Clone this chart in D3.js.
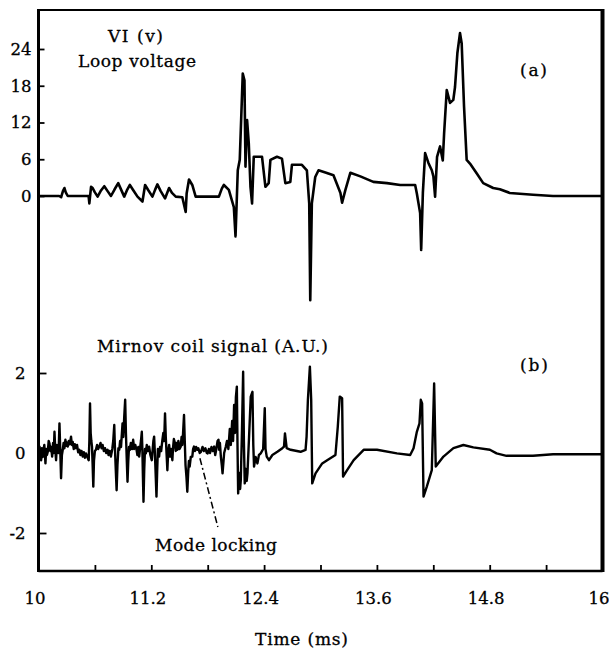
<!DOCTYPE html>
<html><head><meta charset="utf-8">
<script src="https://cdn.jsdelivr.net/npm/d3@7"></script>
<style>
body{margin:0;background:#fff}
svg{display:block}
text{font-family:"DejaVu Serif",serif;fill:#000;stroke:#000;stroke-width:0.3px}
</style>
</head><body>
<svg id="chart" width="609" height="651"></svg>
<script>
// ---- data (time in ms) ----
const timeTicks = [10,10.6,11.2,11.8,12.4,13,13.6,14.2,14.8,15.4,16];
const timeTickLabels = ["10","11.2","12.4","13.6","14.8","16"];
const voltTicks = [0,6,12,18,24];
const mirnovTicks = [-2,0,2];

// (a) loop voltage [time, volts]
const loopVoltage = [
[10.0,0],[10.22,0],[10.241,-0.2],[10.26,0.8],[10.276,1.3],[10.29,0.6],[10.311,0],[10.533,0],[10.541,-1.2],[10.559,1.5],[10.576,1.3],
[10.6,0.6],[10.629,-0.1],[10.665,0.9],[10.700,1.6],[10.735,0.8],[10.771,0],[10.81,1.1],[10.848,2.1],[10.88,1.0],[10.912,-0.1],[10.94,0.9],[10.972,1.8],[11.01,0.9],[11.053,-0.1],[11.106,-0.9],
[11.134,1.8],[11.17,0.9],[11.212,-0.1],[11.24,1.0],[11.265,1.9],[11.3,0.8],[11.346,-0.4],[11.389,1.3],[11.42,0.5],[11.460,-0.1],[11.530,-0.2],[11.566,-2.6],
[11.576,0.4],[11.601,2.7],[11.636,1.8],[11.672,-0.1],[11.919,-0.1],[11.95,1.2],[11.972,1.8],[12.025,1.0],[12.078,-1.8],
[12.096,-6.6],[12.120,4.2],[12.141,5.9],[12.173,20.0],[12.191,18.9],[12.202,4.8],[12.219,12.4],[12.237,8.6],
[12.255,1.5],[12.272,-1.2],[12.290,6.4],[12.378,6.4],[12.414,1.5],[12.449,2.1],[12.467,5.9],[12.537,6.4],
[12.590,6.1],[12.626,2.1],[12.679,2.3],[12.696,5.1],[12.802,5.1],[12.855,4.2],[12.880,-1.2],[12.891,-17.0],
[12.908,-1.2],[12.944,3.1],[12.979,4.2],[13.06,3.8],[13.138,3.4],[13.212,0.5],[13.230,-1.1],[13.265,1.0],[13.318,3.8],
[13.424,3.2],[13.562,2.3],[13.707,2.1],[13.848,1.8],[14.007,1.8],[14.025,0.4],[14.060,-2.8],[14.071,-8.8],
[14.089,0.5],[14.113,7.0],[14.148,5.4],[14.184,4.2],[14.201,3.2],[14.219,-0.1],[14.240,6.4],[14.272,8.1],
[14.301,5.8],[14.315,10.2],[14.343,17.3],[14.378,15.2],[14.413,15.7],[14.431,17.8],[14.456,23.3],[14.484,26.6],
[14.502,24.9],[14.527,14.6],[14.555,5.9],[14.590,5.3],[14.661,3.7],[14.731,2.1],[14.837,1.3],[14.908,1.1],
[15.014,0.5],[15.261,0.2],[15.473,0],[16.0,0]
];

// (b) Mirnov coil signal [time, A.U.]
const mirnovSignal = [
[10.005,0.05],[10.011,0.16],[10.018,-0.05],[10.028,-0.18],[10.036,0.12],[10.045,-0.1],[10.053,0.08],[10.062,0.2],[10.074,-0.26],
[10.082,0.1],[10.090,-0.05],[10.099,0.03],[10.108,0.3],[10.117,0.24],[10.126,0.05],[10.135,0.15],[10.145,-0.09],[10.155,0.25],
[10.162,0.0],[10.170,0.53],[10.178,0.1],[10.187,-0.18],[10.196,0.2],[10.205,0.16],[10.214,0.0],[10.223,0.74],[10.231,0.1],
[10.240,-0.63],[10.249,-0.05],[10.258,0.08],[10.267,0.25],[10.276,0.12],[10.286,0.33],[10.296,0.18],[10.304,0.26],[10.311,0.16],
[10.322,0.3],[10.334,0.22],[10.346,0.41],[10.355,0.2],[10.364,0.28],[10.375,0.1],[10.386,0.22],[10.399,0.12],[10.41,0.2],
[10.422,0.02],[10.435,0.08],[10.446,-0.05],[10.458,0.05],[10.470,-0.09],[10.482,0.02],[10.494,-0.12],[10.505,-0.01],[10.52,-0.1],
[10.534,-0.18],[10.541,0.3],[10.548,1.24],[10.555,0.5],[10.562,0.3],[10.569,0.16],[10.576,-0.3],[10.583,-0.84],[10.59,-0.2],
[10.6,0.05],[10.611,0.08],[10.623,0.2],[10.635,0.1],[10.647,0.16],[10.66,0.25],[10.671,0.12],[10.682,0.20],[10.695,0.05],
[10.708,0.12],[10.72,0.0],[10.735,0.08],[10.745,-0.05],[10.757,0.05],[10.770,-0.09],[10.785,0.1],[10.795,0.3],[10.806,0.70],
[10.812,0.2],[10.82,-0.3],[10.831,-0.93],[10.84,-0.3],[10.85,0.12],[10.859,0.08],[10.868,0.3],[10.878,0.15],[10.894,0.74],
[10.902,0.4],[10.912,0.9],[10.922,1.33],[10.93,0.5],[10.938,-0.1],[10.947,-0.72],[10.955,-0.2],[10.963,0.15],[10.972,0.08],
[10.982,0.25],[10.995,0.1],[11.007,0.33],[11.018,0.1],[11.03,0.2],[11.043,0.08],[11.052,-0.05],[11.062,0.15],[11.071,-0.09],
[11.08,0.1],[11.09,0.3],[11.099,0.53],[11.105,0.1],[11.11,-0.5],[11.117,-1.22],[11.125,-0.4],[11.133,0.1],[11.142,-0.01],
[11.152,0.2],[11.165,0.05],[11.177,0.16],[11.19,-0.05],[11.205,-0.18],[11.215,0.1],[11.222,0.3],[11.230,0.41],[11.238,0.0],
[11.246,-0.5],[11.255,-1.09],[11.262,-0.5],[11.27,0.1],[11.283,-0.09],[11.293,0.15],[11.305,0.05],[11.318,0.33],[11.328,0.5],
[11.337,0.3],[11.346,0.99],[11.354,0.4],[11.362,0.0],[11.371,-0.43],[11.38,0.05],[11.39,0.2],[11.399,-0.09],[11.41,0.1],
[11.424,-0.18],[11.432,0.15],[11.44,0.35],[11.452,0.24],[11.46,0.05],[11.468,0.25],[11.477,0.08],[11.488,0.3],[11.5,0.1],
[11.513,0.16],[11.522,0.4],[11.53,0.2],[11.538,0.5],[11.548,0.95],[11.556,0.3],[11.564,-0.3],[11.574,-0.6],[11.583,-0.97],
[11.592,-0.5],[11.6,-0.2],[11.608,-0.34],[11.62,-0.1],[11.636,-0.09],[11.645,0.1],[11.654,0.16],[11.665,0.05],[11.677,0.15],
[11.689,0.08],[11.7,0.12],[11.715,0.0],[11.728,0.03],[11.745,0.15],[11.76,0.05],[11.775,0.12],[11.79,0.0],[11.799,-0.01],
[11.812,0.1],[11.825,0.0],[11.84,0.15],[11.855,0.05],[11.869,0.16],[11.88,-0.05],[11.892,0.1],[11.905,0.3],[11.915,0.33],
[11.922,0.08],[11.93,0.25],[11.940,-0.09],[11.95,-0.3],[11.958,-0.51],[11.975,0.0],[11.993,0.16],[12.005,0.3],[12.020,0.10],
[12.035,0.60],[12.046,0.20],[12.060,0.80],[12.070,0.30],[12.081,1.20],[12.090,0.50],[12.100,1.40],[12.110,1.66],[12.117,0.2],
[12.124,-1.01],[12.135,-0.5],[12.145,-0.9],[12.152,-0.68],[12.165,0.6],[12.177,2.03],[12.185,0.3],[12.194,-0.76],[12.205,-0.4],
[12.215,-0.7],[12.223,-0.51],[12.24,0.4],[12.258,1.41],[12.276,1.53],[12.285,0.2],[12.293,-0.34],[12.31,-0.1],[12.329,-0.26],
[12.345,-0.05],[12.364,-0.01],[12.39,0.1],[12.407,1.12],[12.415,0.1],[12.428,-0.09],[12.452,-0.18],[12.488,-0.05],[12.541,0.03],
[12.594,0.12],[12.612,0.16],[12.622,0.49],[12.640,0.12],[12.682,0.08],[12.788,0.03],[12.841,0.08],[12.852,0.41],[12.866,1.33],
[12.887,2.16],[12.901,1.33],[12.912,-0.76],[12.947,-0.51],[13.018,-0.26],[13.071,-0.18],[13.159,-0.05],[13.184,0.66],
[13.205,1.41],[13.230,1.37],[13.240,-0.59],[13.283,-0.43],[13.353,-0.18],[13.459,0.08],[13.601,0.08],[13.813,-0.01],
[13.954,-0.05],[13.990,0.12],[14.025,0.53],[14.053,0.74],[14.067,1.33],[14.081,1.24],[14.096,-1.09],[14.131,-0.84],
[14.184,-0.43],[14.209,1.74],[14.226,-0.34],[14.308,-0.09],[14.414,0.12],[14.520,0.20],[14.626,0.14],[14.802,0.08],
[14.873,-0.01],[14.979,-0.07],[15.261,-0.07],[15.474,-0.03],[16.0,-0.03]
];

// "Mode locking" leader line, in data coords of panel (b)
const modeLockArrow = [[11.717,-0.13],[11.908,-1.85]];

// ---- drawing ----
const svg = d3.select("#chart");
const fLeft = 38.5, fRight = 602.5, fTop = 10, fBottom = 571;
const x = d3.scaleLinear().domain([10,16]).range([fLeft,fRight]);
const yA = d3.scaleLinear().domain([0,24]).range([196,49]);
const yB = d3.scaleLinear().domain([-2,2]).range([533,373]);

// traces
const lineA = d3.line().x(d=>x(d[0])).y(d=>yA(d[1]));
const lineB = d3.line().x(d=>x(d[0])).y(d=>yB(d[1]));
svg.append("path").datum(loopVoltage).attr("d",lineA)
  .attr("fill","none").attr("stroke","#000").attr("stroke-width",2.6).attr("stroke-linejoin","round");
svg.append("path").datum(mirnovSignal).attr("d",lineB)
  .attr("fill","none").attr("stroke","#000").attr("stroke-width",2.4).attr("stroke-linejoin","round");

// leader line
svg.append("path").datum(modeLockArrow).attr("d",lineB)
  .attr("fill","none").attr("stroke","#000").attr("stroke-width",1.5).attr("stroke-dasharray","7,3,2,3");

// axes
const fs = "16.5px";
const axA = svg.append("g").attr("transform",`translate(${fLeft},0)`)
  .call(d3.axisLeft(yA).tickValues(voltTicks).tickSize(-6).tickPadding(7).tickFormat(d => String(d)));
const axB = svg.append("g").attr("transform",`translate(${fLeft},0)`)
  .call(d3.axisLeft(yB).tickValues(mirnovTicks).tickSize(-8).tickPadding(13).tickFormat(d => String(d)));
const axX = svg.append("g").attr("transform",`translate(0,${fBottom})`)
  .call(d3.axisBottom(x).tickValues(timeTicks).tickSize(-6).tickPadding(21)
    .tickFormat(d => { const s = (+d.toFixed(1)).toString(); return timeTickLabels.includes(s) ? s : ""; }));
[axA,axB,axX].forEach(g=>{
  g.select(".domain").remove();
  g.selectAll(".tick line").attr("stroke","#000").attr("stroke-width",1.8);
  g.selectAll(".tick text").attr("font-family","DejaVu Serif").attr("font-size",fs).attr("fill","#000");
});
axX.selectAll(".tick text").attr("dx",-4);

// frame
svg.append("line").attr("x1",fLeft).attr("x2",fLeft).attr("y1",fTop-1).attr("y2",fBottom+1).attr("stroke","#000").attr("stroke-width",3);
svg.append("line").attr("x1",fLeft).attr("x2",fRight).attr("y1",fTop).attr("y2",fTop).attr("stroke","#000").attr("stroke-width",2.2);
svg.append("line").attr("x1",fLeft).attr("x2",fRight).attr("y1",fBottom).attr("y2",fBottom).attr("stroke","#000").attr("stroke-width",2.4);
svg.append("line").attr("x1",fRight).attr("x2",fRight).attr("y1",fTop-1).attr("y2",fBottom+1).attr("stroke","#000").attr("stroke-width",4);

// annotations
function label(txt, xs, yb, len, size){
  const t = svg.append("text").attr("x",xs).attr("y",yb).attr("font-size",size||"17px").text(txt);
  if (len) t.attr("textLength",len).attr("lengthAdjust","spacing");
  return t;
}
label("VI (v)", 108, 42, 55);
label("Loop voltage", 78, 67, 118);
label("(a)", 520, 76, 27);
label("Mirnov coil signal (A.U.)", 97, 352, 231);
label("(b)", 520, 371, 28);
label("Mode locking", 155, 551, 122);
label("Time (ms)", 255, 645, 93);
</script>
</body></html>
